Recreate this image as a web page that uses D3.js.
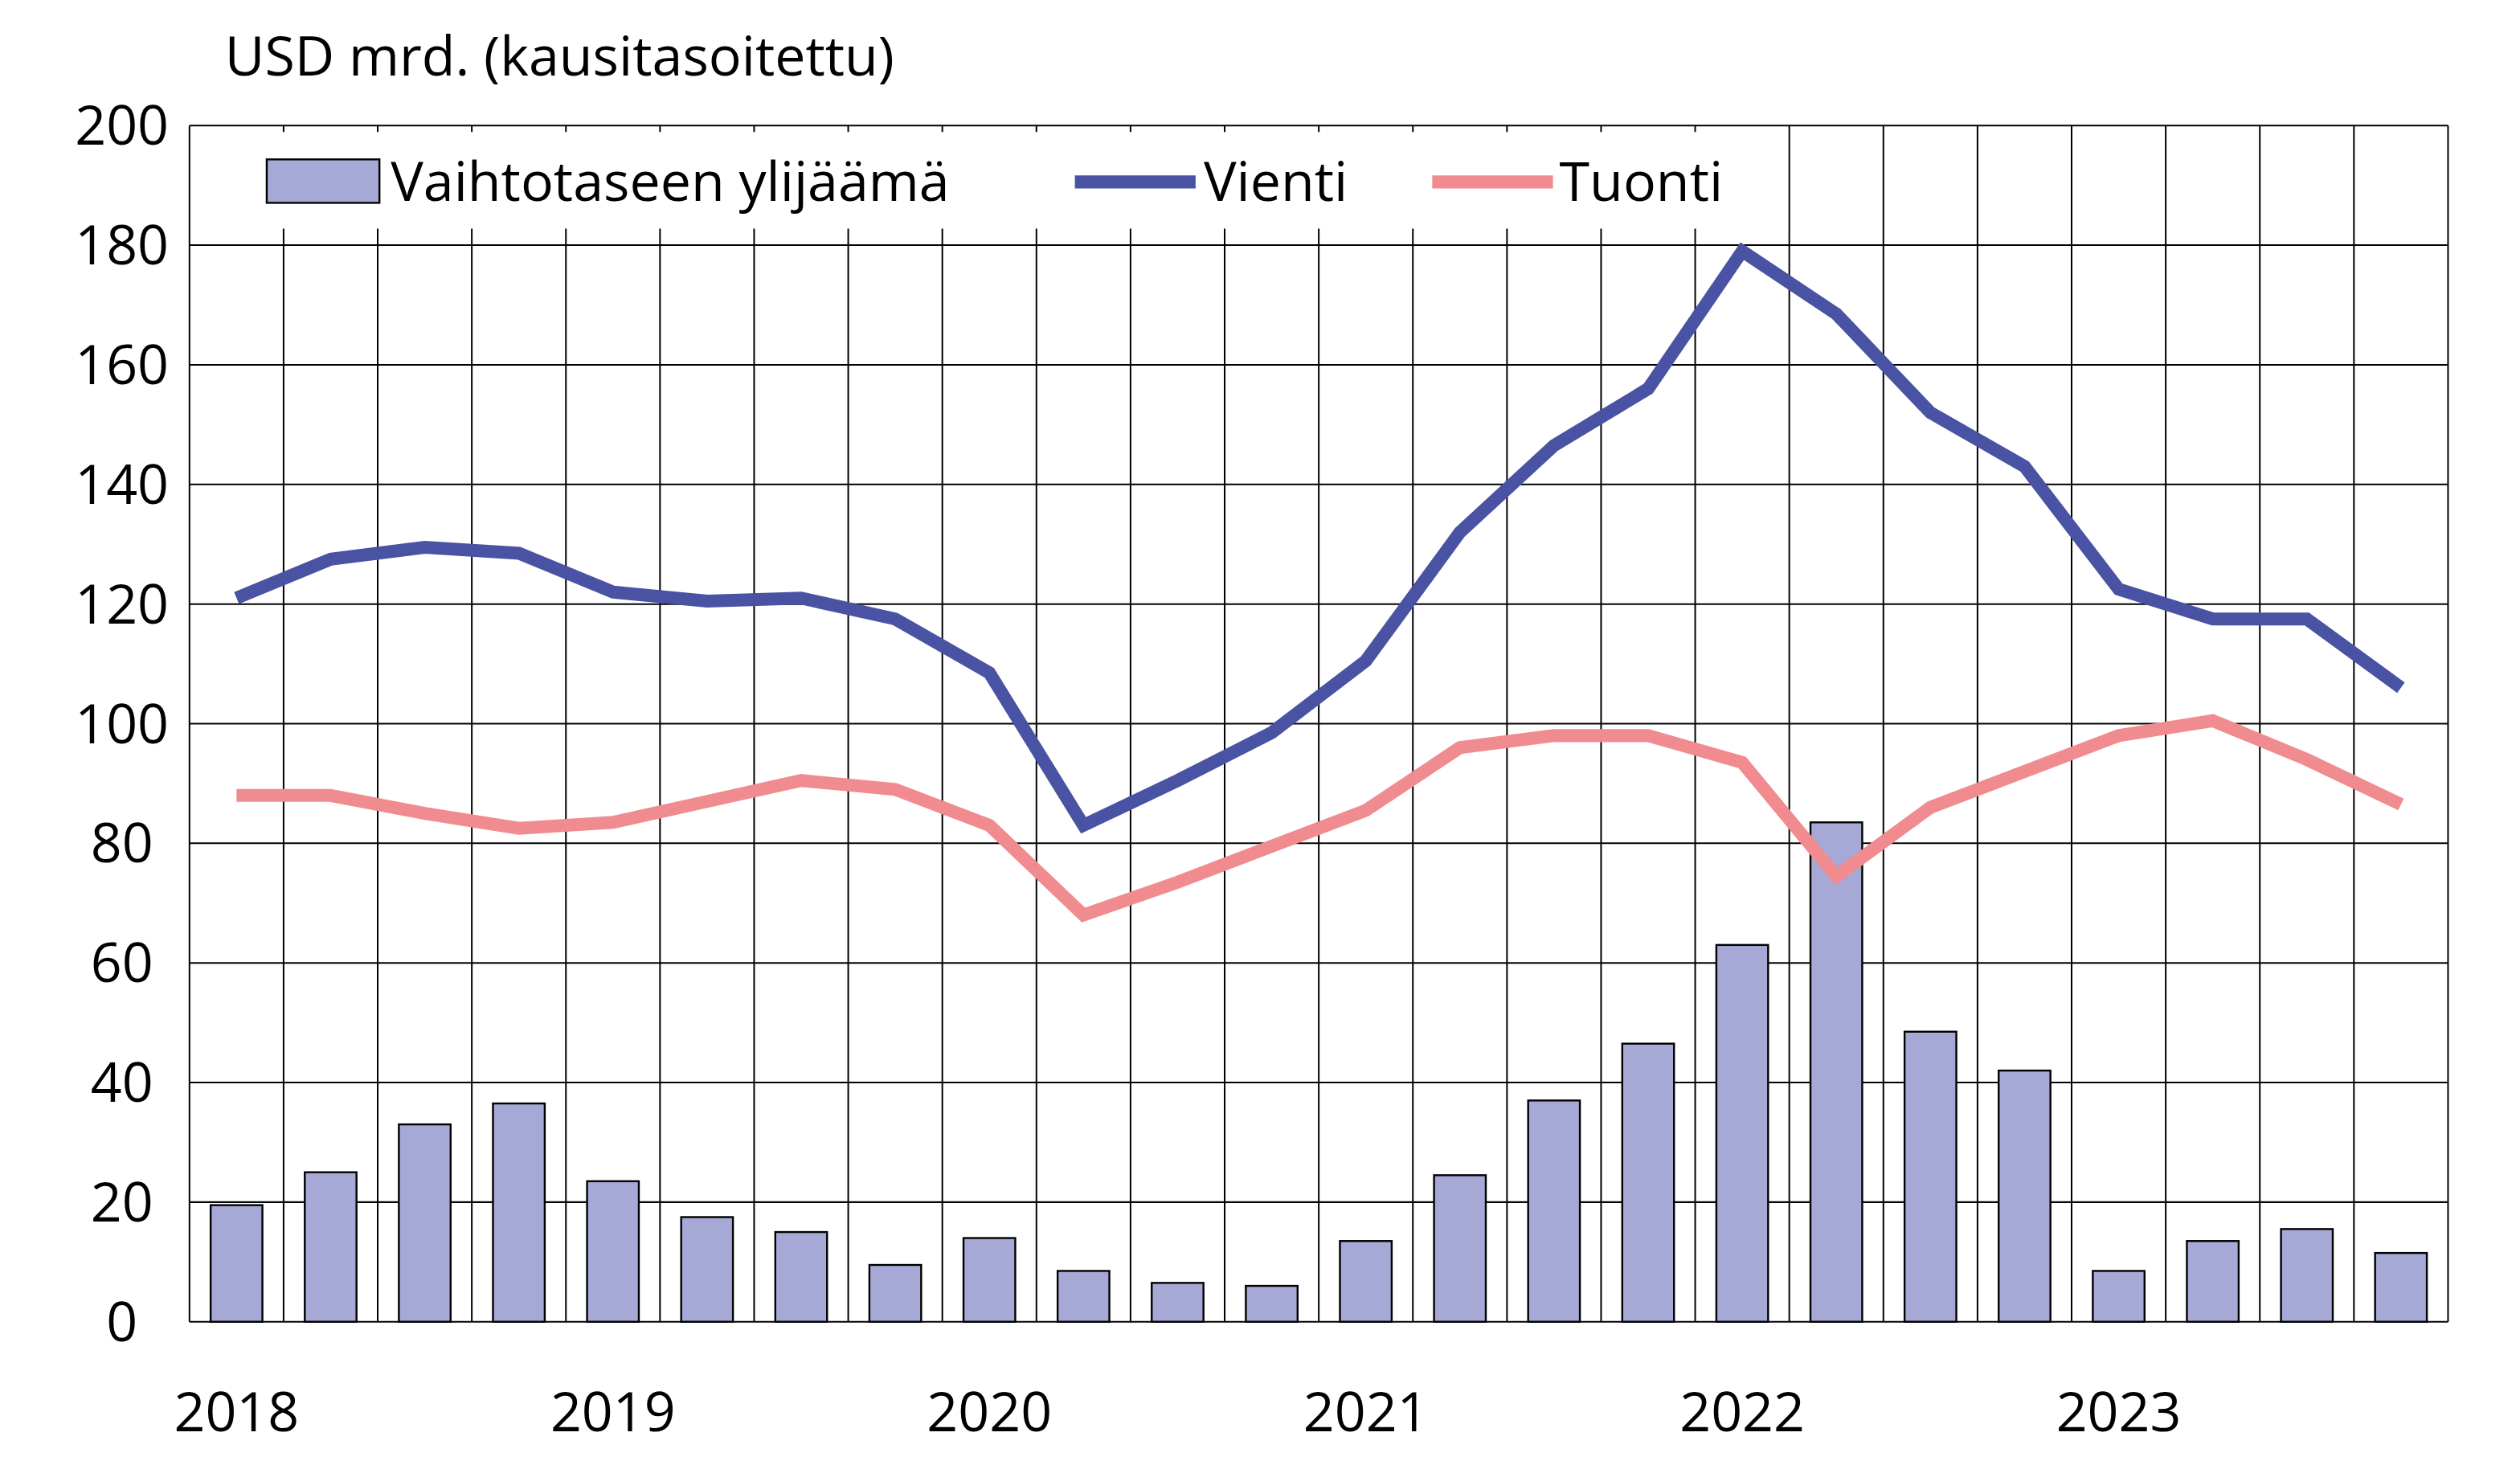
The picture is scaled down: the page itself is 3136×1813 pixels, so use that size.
<!DOCTYPE html>
<html><head><meta charset="utf-8">
<script src="https://cdn.jsdelivr.net/npm/d3@7"></script>
<style>body{margin:0;background:#fff}text{font-family:"Open Sans",sans-serif;fill:#000}</style>
</head><body>
<script>
// quarters 2018Q1 .. 2023Q4
var years = ["2018","2019","2020","2021","2022","2023"];
var ylijaama = [19.5,25,33,36.5,23.5,17.5,15,9.5,14,8.5,6.5,6,13.5,24.5,37,46.5,63,83.5,48.5,42,8.5,13.5,15.5,11.5];
var vienti = [121,127.5,129.5,128.5,122,120.5,121,117.5,108.5,83,90.5,98.5,110.5,132,146.5,156,179,168.5,152,143,122.5,117.5,117.5,106];
var tuonti = [88,88,85,82.5,83.5,87,90.5,89,83,68,73.5,79.5,85.5,96,98,98,93.5,74.5,86,92,98,100.5,94,86.5];
var yTicks = [0,20,40,60,80,100,120,140,160,180,200];

var W = 1560, H = 905;
var svg = d3.select("body").append("svg").attr("width",3136).attr("height",1813)
  .attr("viewBox","0 0 "+W+" "+H);
var L=115,R=1518,T=78,B=821;
var idx = d3.range(ylijaama.length);
var x = d3.scaleBand().domain(idx).range([L,R]).paddingInner(0.45).paddingOuter(0.225);
var y = d3.scaleLinear().domain([0,200]).range([B,T]);
var step = (R-L)/idx.length;

var g = svg.append("g");
// grid
g.selectAll("line.h").data(yTicks).enter().append("line")
  .attr("x1",L).attr("x2",R).attr("y1",d=>y(d)).attr("y2",d=>y(d)).attr("stroke","#000").attr("stroke-width",1);
g.selectAll("line.v").data(d3.range(idx.length+1)).enter().append("line")
  .attr("x1",d=>L+d*step).attr("x2",d=>L+d*step).attr("y1",T).attr("y2",B).attr("stroke","#000").attr("stroke-width",1);

// legend background
g.append("rect").attr("x",118).attr("y",82).attr("width",990).attr("height",60).attr("fill","#fff");

// bars
g.selectAll("rect.bar").data(ylijaama).enter().append("rect")
  .attr("x",(d,i)=>x(i)).attr("width",x.bandwidth()).attr("y",d=>y(d)).attr("height",d=>B-y(d))
  .attr("fill","#a6a9d6").attr("stroke","#000").attr("stroke-width",1.2);

var line = d3.line().x((d,i)=>L+(i+0.5)*step).y(d=>y(d));
g.append("path").datum(tuonti).attr("d",line).attr("fill","none").attr("stroke","#f08c8f").attr("stroke-width",8);
g.append("path").datum(vienti).attr("d",line).attr("fill","none").attr("stroke","#4a53a3").attr("stroke-width",8);

// axes text
g.selectAll("text.y").data(yTicks).enter().append("text")
  .attr("x",L-42).attr("y",d=>y(d)+12).attr("text-anchor","middle").attr("font-size",34).text(d=>d);
g.selectAll("text.x").data(years).enter().append("text")
  .attr("x",(d,i)=>L+(i*4+0.5)*step).attr("y",889).attr("text-anchor","middle").attr("font-size",34).text(d=>d);
g.append("text").attr("x",137).attr("y",47).attr("font-size",34).text("USD mrd. (kausitasoitettu)");

// legend
var lg = g.append("g").attr("font-size",34);
lg.append("rect").attr("x",163).attr("y",99).attr("width",70).attr("height",27).attr("fill","#a6a9d6").attr("stroke","#000").attr("stroke-width",1.2);
lg.append("text").attr("x",240).attr("y",125).text("Vaihtotaseen ylijäämä");
lg.append("line").attr("x1",665).attr("x2",740).attr("y1",113).attr("y2",113).attr("stroke","#4a53a3").attr("stroke-width",8);
lg.append("text").attr("x",745).attr("y",125).text("Vienti");
lg.append("line").attr("x1",887).attr("x2",962).attr("y1",113).attr("y2",113).attr("stroke","#f08c8f").attr("stroke-width",8);
lg.append("text").attr("x",966).attr("y",125).text("Tuonti");
</script>
</body></html>
